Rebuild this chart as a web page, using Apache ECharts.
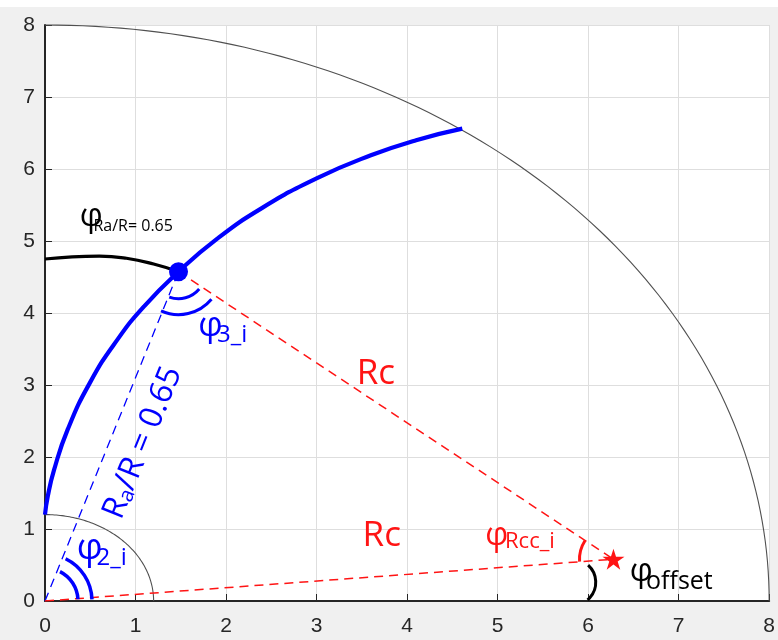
<!DOCTYPE html>
<html>
<head>
<meta charset="utf-8">
<script src="https://cdn.jsdelivr.net/npm/echarts@6/dist/echarts.min.js"></script>
<style>
  html, body { margin: 0; padding: 0; background: #ffffff; }
  #chart { position: absolute; left: 0; top: 7px; width: 778px; height: 633px; background: #f0f0f0; }
</style>
</head>
<body>
<div id="chart"></div>
<script>
// Axis range
const axisMin = 0;
const axisMax = 8;
const tickStep = 1;

// Reference quarter circles around the origin (radius)
const circleRadii = [8, 1.2];

// Rc arc (blue)
const rcArcX = [0, 0.03, 0.1, 0.25, 0.5, 0.8, 1.1, 1.475, 1.9, 2.4, 3.0, 3.6, 4.1, 4.61];
const rcArcY = [1.2, 1.45, 1.82, 2.38, 3.04, 3.63, 4.1, 4.574, 5.03, 5.46, 5.87, 6.19, 6.4, 6.56];

// φ at Ra/R = 0.65 (black)
const phiX = [0, 0.3, 0.6, 0.9, 1.2, 1.475];
const phiY = [4.75, 4.78, 4.79, 4.76, 4.68, 4.574];

// Key points
const origin = [0, 0];
const pointA = [1.475, 4.574];   // point at Ra/R = 0.65 on the Rc arc
const pointC = [6.28, 0.58];     // centre of the Rc arc

const BLUE = '#0000ff';
const RED = '#ff1414';
const UI_FONT = '"Open Sans", "Noto Sans", sans-serif';
const TICK_FONT = '"Liberation Sans", Arial, sans-serif';

const zip = (xs, ys) => xs.map((x, i) => [x, ys[i]]);

const chart = echarts.init(document.getElementById('chart'), null, { renderer: 'canvas' });

const axisCommon = {
  type: 'value',
  min: axisMin,
  max: axisMax,
  interval: tickStep,
  axisLine: { show: true, onZero: false, lineStyle: { color: '#262626', width: 2 } },
  axisTick: { show: true, inside: true, length: 7, lineStyle: { color: '#262626', width: 1 } },
  splitLine: { show: true, lineStyle: { color: '#dedede', width: 1 } },
  axisLabel: { color: '#262626', fontSize: 21, fontFamily: TICK_FONT, showMaxLabel: true, showMinLabel: true }
};

// Quarter circles drawn through the cartesian scales
function renderCircle(params, api) {
  const r = api.value(0);
  const pts = [];
  for (let d = 0; d <= 90; d += 1) {
    const t = d * Math.PI / 180;
    pts.push(api.coord([r * Math.cos(t), r * Math.sin(t)]));
  }
  return {
    type: 'polyline',
    shape: { points: pts },
    style: { stroke: '#505050', lineWidth: 1.1, fill: null }
  };
}

// Angle markers: small arcs around a vertex given in data coordinates
const angleMarks = [
  { at: origin, r: 33, from: 3, to: 63, color: BLUE, w: 3.5 },
  { at: origin, r: 47, from: 2, to: 64, color: BLUE, w: 3.5 },
  { at: pointA, r: 27, from: 250, to: 320, color: BLUE, w: 3 },
  { at: pointA, r: 43, from: 246, to: 320, color: BLUE, w: 3 },
  { at: pointC, r: 34, from: 147, to: 184, color: RED, w: 3 },
  { at: [5.83, 0.26], r: 23, from: -50, to: 48, color: '#000000', w: 3 }
];

function renderAngle(params, api) {
  const m = angleMarks[params.dataIndex];
  const c = api.coord(m.at);
  return {
    type: 'arc',
    shape: {
      cx: c[0], cy: c[1], r: m.r,
      startAngle: -m.to * Math.PI / 180,
      endAngle: -m.from * Math.PI / 180,
      clockwise: true
    },
    style: { stroke: m.color, lineWidth: m.w, fill: null }
  };
}

const starPath = 'path://M50,2 L61,36 L97,36 L68,57 L79,92 L50,70 L21,92 L32,57 L3,36 L39,36 Z';

chart.setOption({
  animation: false,
  grid: { left: 45, right: 1, top: 18, bottom: 39, containLabel: false, backgroundColor: '#ffffff', show: true, borderWidth: 0 },
  xAxis: Object.assign({}, axisCommon, { axisLabel: Object.assign({}, axisCommon.axisLabel, { margin: 15 }) }),
  yAxis: Object.assign({}, axisCommon, { axisLabel: Object.assign({}, axisCommon.axisLabel, { margin: 10 }) }),
  series: [
    {
      type: 'custom', name: 'circles', renderItem: renderCircle,
      data: circleRadii.map(r => [r]), clip: false, silent: true, z: 2
    },
    {
      type: 'line', name: 'Ra-line', data: [origin, pointA], symbol: 'none',
      lineStyle: { color: BLUE, width: 1.3, type: [9, 6] }, z: 3
    },
    {
      type: 'line', name: 'Rc-upper', data: [pointA, pointC], symbol: 'none',
      lineStyle: { color: RED, width: 1.5, type: [9, 6] }, z: 3
    },
    {
      type: 'line', name: 'Rc-lower', data: [origin, pointC], symbol: 'none',
      lineStyle: { color: RED, width: 1.5, type: [9, 6] }, z: 3
    },
    {
      type: 'line', name: 'phi', data: zip(phiX, phiY), symbol: 'none', smooth: 0.5,
      lineStyle: { color: '#000000', width: 3.2 }, z: 4
    },
    {
      type: 'line', name: 'Rc-arc', data: zip(rcArcX, rcArcY), symbol: 'none', smooth: 0.5,
      lineStyle: { color: BLUE, width: 4.2 }, z: 5
    },
    {
      type: 'custom', name: 'angles', renderItem: renderAngle,
      data: angleMarks.map(m => [m.at[0], m.at[1]]), clip: false, silent: true, z: 6
    },
    {
      type: 'scatter', name: 'A', data: [pointA], symbol: 'circle', symbolSize: 19,
      itemStyle: { color: BLUE, opacity: 1 }, z: 7
    },
    {
      type: 'scatter', name: 'C', data: [pointC], symbol: starPath, symbolSize: [22, 21],
      itemStyle: { color: RED, opacity: 1 }, z: 7
    }
  ]
});

// Text annotations placed in data coordinates
const px = p => chart.convertToPixel({ gridIndex: 0 }, p);

function label(pos, text, size, color) {
  const p = px(pos);
  return {
    type: 'text', x: p[0], y: p[1], z: 100,
    style: { text: text, fontSize: size, fontFamily: UI_FONT, fill: color, align: 'left', verticalAlign: 'middle' }
  };
}

const p0 = px(origin);
const pA = px(pointA);
const lineAngle = Math.atan2(p0[1] - pA[1], pA[0] - p0[0]);
const rotCenter = px([1.04, 2.22]);

chart.setOption({
  graphic: [
    label([0.383, 5.333], 'φ', 32, '#000000'),
    label([0.535, 5.201], 'Ra/R= 0.65', 16, '#000000'),

    label([1.694, 3.819], 'φ', 34, BLUE),
    label([1.900, 3.694], '3_i', 24, BLUE),

    label([0.350, 0.729], 'φ', 36, BLUE),
    label([0.568, 0.597], '2_i', 24, BLUE),

    label([4.863, 0.903], 'φ', 32, RED),
    label([5.082, 0.826], 'Rcc_i', 22, RED),

    label([6.460, 0.410], 'φ', 32, '#000000'),
    label([6.640, 0.264], 'offset', 25, '#000000'),

    label([3.443, 3.153], 'Rc', 35, RED),
    label([3.508, 0.903], 'Rc', 35, RED),

    {
      type: 'text', x: rotCenter[0], y: rotCenter[1], rotation: lineAngle, z: 100,
      style: {
        text: '{b|R}{s|a}{b|/R = 0.65}',
        align: 'center', verticalAlign: 'middle', fill: BLUE,
        rich: {
          b: { fontSize: 32, fontFamily: UI_FONT, color: BLUE, lineHeight: 40, verticalAlign: 'bottom' },
          s: { fontSize: 21, fontFamily: UI_FONT, color: BLUE, lineHeight: 21, verticalAlign: 'bottom' }
        }
      }
    }
  ]
});
</script>
</body>
</html>
